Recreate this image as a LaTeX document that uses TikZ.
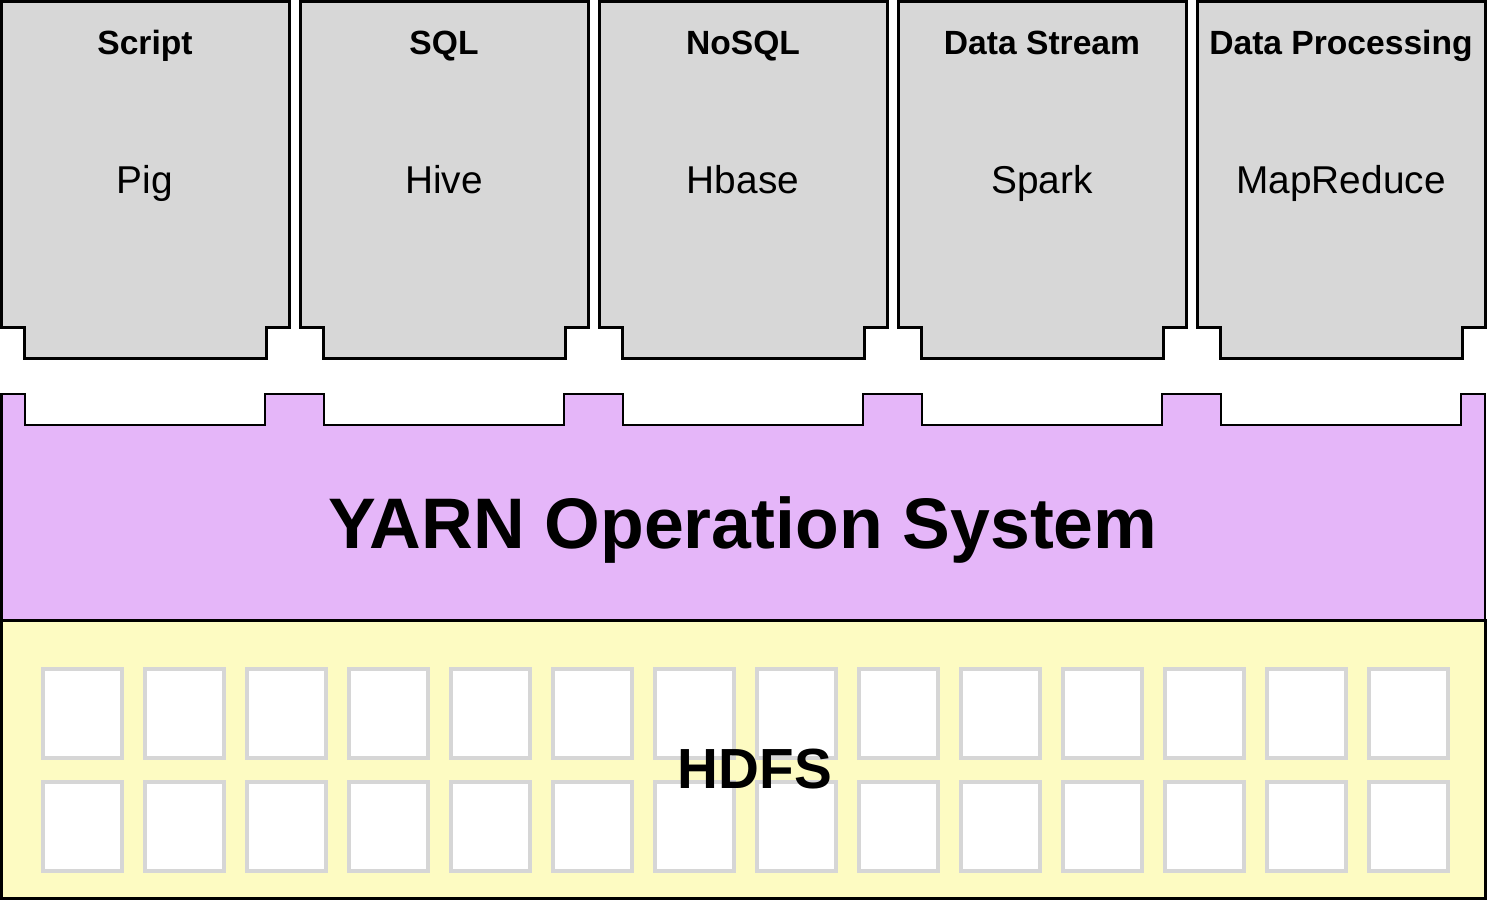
\documentclass[tikz,border=0pt]{standalone}
\usepackage{fontspec}
\setmainfont{Liberation Sans}
\definecolor{boxgray}{HTML}{D7D7D7}
\definecolor{yarnpurple}{HTML}{E5B6F9}
\definecolor{hdfsyellow}{HTML}{FDFBC2}
\definecolor{cellgray}{HTML}{D6D6D6}
\begin{document}
\begin{tikzpicture}[x=0.5pt,y=-0.5pt,
  appbox/.style={draw=black,fill=boxgray,line width=1.5pt,line join=miter},
  yarnshape/.style={draw=black,fill=yarnpurple,line width=1.1pt,line join=miter},
  hdfsshape/.style={draw=black,fill=hdfsyellow,line width=1.5pt},
  cell/.style={draw=cellgray,fill=white,line width=2.2pt},
  title/.style={font=\bfseries\fontsize{16.8}{20}\selectfont,anchor=base,inner sep=0pt},
  tool/.style={font=\fontsize{19.4}{23}\selectfont,anchor=base,inner sep=0pt},
  big/.style={font=\bfseries\fontsize{35.8}{42}\selectfont,anchor=base,inner sep=0pt},
  mid/.style={font=\bfseries\fontsize{28.3}{34}\selectfont,anchor=base,inner sep=0pt}]
\useasboundingbox (0,0) rectangle (1487,900);
% HDFS layer
\draw[hdfsshape] (1.5,620) rectangle (1485,898);
\foreach \i in {0,...,13}{
  \foreach \r/\ya/\yb in {0/669/758,1/782/871}{
    \draw[cell] ({43+102*\i},\ya) rectangle ({122+102*\i},\yb);
  }
}
\node[mid] (hdfs) at (755,788) {HDFS};
% YARN layer
\draw[yarnshape] (1.5,620) -- (1.5,394)
  \foreach \k in {0,...,4}{ -- ({25+299*\k},394) -- ({25+299*\k},425) -- ({265+299*\k},425) -- ({265+299*\k},394)}
  -- (1485,394) -- (1485,620) -- cycle;
\draw[black,line width=1.5pt] (1.5,620) -- (1485,620);
\node[big] (yarn) at (743,548) {YARN Operation System};
% application boxes
\foreach \k/\t/\s/\n in {0/Script/Pig/pig,1/SQL/Hive/hive,2/NoSQL/Hbase/hbase,3/Data Stream/Spark/spark,4/Data Processing/MapReduce/mr}{
  \pgfmathsetmacro{\L}{1+299*\k}
  \pgfmathsetmacro{\R}{289+299*\k}
  \draw[appbox] (\L,1) -- (\R,1) -- (\R,327) -- ({\R-23},327) -- ({\R-23},358)
    -- ({\L+23},358) -- ({\L+23},327) -- (\L,327) -- cycle;
  \node[title] (t\n) at ({(\L+\R)/2},54) {\t};
  \node[tool] (\n) at ({(\L+\R)/2},193) {\s};
}
\end{tikzpicture}
\end{document}
